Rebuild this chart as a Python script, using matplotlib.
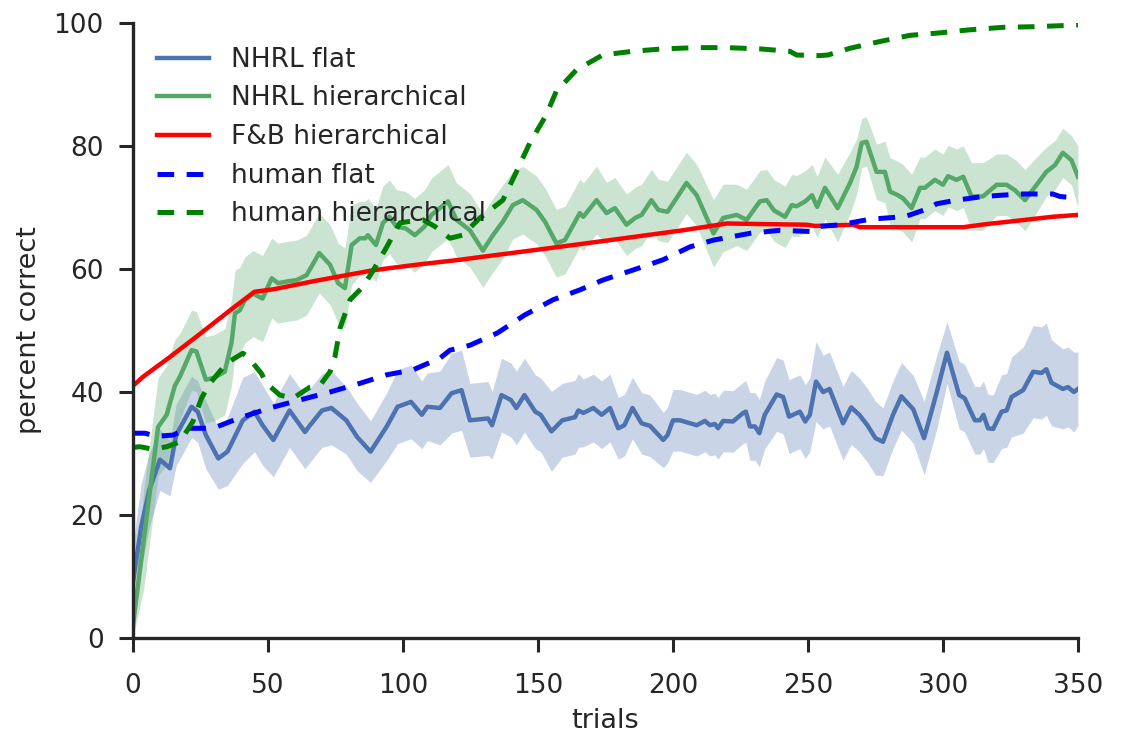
import matplotlib
matplotlib.use("Agg")
import numpy as np
import matplotlib.pyplot as plt

# NHRL flat (mean and band half-width)
flat_x = [
    0, 3, 6, 10, 13.7, 16, 21.7, 24, 27, 31.6,
    35, 40.7, 45, 48, 52, 58, 63.7, 65.6, 70, 73.5,
    79, 83, 88, 94, 98, 103, 107, 109, 113.7, 118,
    121.7, 124.8, 131.5, 133, 136.5, 140, 142, 145, 149, 151,
    155, 159, 163.7, 165, 166.8, 170.5, 173.6, 176.7, 179.7, 182,
    185, 188.4, 191.5, 196.4, 198, 200, 202.6, 208.8, 211.8, 213.7,
    215.5, 216.7, 218.6, 222.2, 226, 227, 228.5, 230.4, 232, 234,
    238.4, 240.8, 243, 247, 249, 250.7, 253, 255.6, 258, 263,
    266, 269, 272, 275, 277.8, 281.5, 284.6, 289, 293, 297.6,
    301.5, 306, 308, 311.8, 313.7, 315, 316.7, 318.6, 321.7, 323.6,
    325.4, 329.7, 333.4, 336.5, 338.3, 340.2, 344.4, 346.3, 348.5, 350]
flat_y = [
    9, 18, 24, 29, 27.6, 33, 37.6, 36.8, 33, 29.2,
    30.3, 35.4, 36.8, 34.6, 32.2, 37, 33.5, 34.6, 37, 37.4,
    35.4, 32.7, 30.3, 34.4, 37.6, 38.4, 36.3, 37.6, 37.4, 39.8,
    40.3, 35.4, 35.7, 34.6, 39.5, 38.7, 37.4, 39.5, 36.8, 36.3,
    33.6, 35.4, 35.9, 37, 36.6, 37.4, 36.3, 37.4, 34.1, 34.6,
    37.4, 34.9, 34.5, 32.2, 33, 35.4, 35.4, 34.6, 35.3, 34.6,
    34.8, 34.1, 35.3, 35.2, 36.6, 36.8, 34.4, 34.4, 33.3, 36.3,
    39.6, 39.2, 36, 36.8, 35.2, 36.3, 41.7, 40, 40.5, 34.9,
    37.5, 36.3, 34.6, 32.5, 31.9, 36.3, 39.3, 37.2, 32.5, 39.8,
    46.4, 39.5, 39, 35.4, 35.4, 36.3, 34.1, 34, 36.8, 37,
    39.2, 40.3, 43.3, 43.1, 43.7, 41.5, 40.5, 40.8, 40, 40.5]
flat_err = [
    6, 7, 6, 5, 4.5, 5, 5, 5, 5.5, 5,
    5.5, 7, 6.5, 6.5, 6, 6, 6, 6, 6, 6,
    5.5, 5.5, 5, 5.5, 6, 6, 5.5, 5.5, 6, 6.5,
    6.5, 6, 6, 5.5, 6, 6, 6, 6, 6, 6,
    6.5, 6, 6, 6, 5.5, 5.5, 5.5, 5.5, 5, 5,
    5, 5, 5, 4.5, 4.5, 5, 5, 5, 5, 5,
    5, 5, 5, 5, 5, 5, 5.5, 5.5, 5.5, 5.5,
    6, 6, 6, 6, 6, 6, 6.5, 6, 6, 6,
    6, 6, 6, 6, 5.5, 5.5, 5.5, 5.5, 6, 6,
    5, 5.5, 5.5, 5.5, 5.5, 5.5, 5.5, 5.5, 6, 6,
    6.5, 7, 7.5, 7.5, 7.5, 7, 6.5, 6.5, 6.5, 6]

# NHRL hierarchical
hier_x = [
    0, 4, 9.3, 12.5, 15.5, 17.4, 21.7, 23.5, 27, 30,
    34, 36.5, 37.8, 39.6, 41.5, 44.5, 48, 51.4, 53.7, 57.4,
    60.6, 64.3, 69, 73, 76, 78.5, 81, 84, 86, 87,
    90, 92.6, 95, 97.6, 101, 104.4, 108, 110.6, 116.7, 119.8,
    124.8, 129.6, 133, 137, 140.7, 144.4, 149.5, 152.6, 156.8, 160,
    165.5, 166.8, 171.7, 175.4, 178.5, 182.8, 186, 188.4, 192, 194.6,
    198, 201.3, 205, 208.8, 215, 218.6, 223.6, 227.3, 232.2, 234.7,
    237.5, 241.5, 244, 245.8, 249, 251.5, 253.4, 256.3, 261, 265.6,
    268, 269.9, 271.7, 275.4, 278.5, 280.4, 283.3, 285.2, 288.4, 291.5,
    293.3, 297, 300, 301.9, 305, 307.5, 310.6, 314.8, 319.9, 323.6,
    326.7, 330.4, 334.7, 338.3, 341.5, 344.4, 347.6, 350]
hier_y = [
    2, 16, 34.3, 36.3, 41, 42.5, 46.8, 46.6, 42, 42.3,
    43.3, 48, 52.8, 53.3, 55, 56, 55.2, 58.5, 57.7, 58,
    58.2, 59, 62.6, 60.7, 57.7, 56.9, 63.9, 65, 65, 65.5,
    63.9, 67.5, 68.5, 66.9, 66.6, 65.5, 66.9, 68.8, 71, 68,
    66.3, 63, 65.3, 67.7, 70.4, 71.2, 69.6, 67.7, 64.2, 64.7,
    69.1, 68.5, 71.2, 69.1, 69.9, 67.2, 68.3, 68.8, 71.2, 69.6,
    69.3, 71.5, 74, 72, 65.8, 68.3, 68.8, 68, 71, 71.2,
    69.5, 68.5, 70.4, 70.2, 71, 72, 70.1, 73.2, 69.9, 74,
    76.6, 80.5, 80.7, 75.8, 75.8, 72.6, 72, 71.5, 69.9, 73.2,
    73.2, 74.5, 73.7, 75.1, 74.5, 75, 71.8, 71.8, 73.7, 73.7,
    72.8, 71.2, 73.7, 75.8, 76.9, 78.9, 77.7, 75]
hier_err = [
    2, 8, 8, 8, 7.5, 7, 6.5, 6.5, 7, 7,
    7, 7, 7, 7, 7, 7, 7, 6.5, 6.5, 6.5,
    6.5, 6.5, 6.5, 6.5, 6.5, 6.5, 6.5, 6, 6, 6,
    6, 6, 6, 6, 6, 6, 6, 6, 6, 6,
    6, 6, 6, 6, 5.5, 5.5, 5.5, 5.5, 5.5, 5.5,
    5.5, 5.5, 5.5, 5, 5, 5, 5, 5, 5, 5,
    5, 5, 5, 5, 5.5, 5.5, 5, 5, 5, 5,
    5, 5, 5, 5, 5, 5, 5, 5, 5.5, 5,
    4.5, 4, 4, 4.5, 5, 5.5, 5.5, 5.5, 5.5, 5,
    5, 5, 5, 5, 5, 5, 5.5, 5.5, 5, 5,
    5, 5, 4.5, 4, 4, 4, 4, 5]

# F&B hierarchical model
fb_x = [0, 3.8, 13.7, 23.5, 36, 45, 52, 66.7, 79, 89, 105, 121, 129.6,
        154.4, 176.7, 203.7, 219.9, 249.5, 252.6, 266.7, 269.3, 307.5,
        316, 328.5, 340.7, 350]
fb_y = [41, 42.5, 45.7, 49, 53.3, 56.3, 56.7, 58, 59, 59.8, 60.7, 61.5, 62,
        63.4, 64.7, 66.3, 67.4, 67.2, 67, 67.2, 66.8, 66.8,
        67.3, 67.9, 68.5, 68.8]

# human data
hf_x = [0, 4.4, 8.8, 15, 20, 29.6, 39.6, 50.7, 61.8, 73, 84, 94, 103.7,
        113.7, 117.4, 124.8, 135, 145, 155.6, 165.5, 174, 185, 196.3, 206.3,
        215, 228.5, 239.6, 250.7, 254, 262, 273, 285.2, 287.8, 295, 297.6,
        305, 315, 328.5, 340.7, 343.3, 350]
hf_y = [33.3, 33.3, 32.8, 33, 34.1, 34.1, 35.8, 37.4, 38.7, 40, 41.4, 42.8,
        43.6, 45.5, 46.8, 47.6, 49.6, 52.5, 55, 56.6, 58.2, 59.8, 61.5, 63.6,
        64.7, 65.8, 66.3, 66.1, 66.9, 67.2, 68.1, 68.5, 68.8, 69.9, 70.6,
        71.2, 71.8, 72.2, 72.2, 71.8, 71.5]

hh_x = [0, 2.6, 7.4, 12.5, 17.4, 22.2, 25.4, 28.5, 34.7, 40.7, 42.6, 47.6,
        49.5, 54.4, 59.3, 65.6, 69.3, 73, 74.8, 76.7, 80.4, 85.2, 89, 94,
        98.9, 101.8, 107.4, 111.9, 117.4, 122, 128.5, 137, 142, 147, 153,
        156.8, 164.3, 174, 185, 196.3, 208.8, 219.9, 232, 243.3, 245.8,
        254.4, 257.4, 265.6, 276.7, 287.8, 298.9, 310, 322.2, 333.3, 345.8, 350]
hh_y = [31, 31.1, 30.7, 31.1, 31.9, 35.2, 39, 41.4, 44.7, 46.3, 45.7, 43,
        41.4, 39.5, 39, 40.8, 41.1, 43.3, 45.7, 50.4, 55, 57.1, 59.8, 63.6,
        67.5, 67.7, 68, 66.9, 65, 65.5, 68.3, 71.2, 75.8, 80.5, 85,
        88.9, 92.4, 94.8, 95.4, 95.8, 96, 96, 95.8, 95.4, 94.8,
        94.7, 94.8, 95.9, 97, 98, 98.4, 98.9, 99.3, 99.4, 99.6, 99.7]


def main():
    plt.rcParams["lines.scale_dashes"] = False
    dark = "#262626"

    fig = plt.figure(figsize=(11.21, 7.38), dpi=100)
    ax = fig.add_axes([0.1186, 0.1355, 0.843, 0.8333])

    fx, fy, fe = np.array(flat_x), np.array(flat_y), np.array(flat_err)
    hx, hy, he = np.array(hier_x), np.array(hier_y), np.array(hier_err)

    ax.fill_between(fx, fy - fe, fy + fe, color="#4C72B0", alpha=0.3, lw=0)
    ax.fill_between(hx, hy - he, hy + he, color="#55A868", alpha=0.3, lw=0)
    ax.plot(fx, fy, color="#4C72B0", lw=3.2, label="NHRL flat")
    ax.plot(hx, hy, color="#55A868", lw=3.2, label="NHRL hierarchical")
    ax.plot(fb_x, fb_y, color="r", lw=3.2, label="F&B hierarchical")
    ax.plot(hf_x, hf_y, color="b", lw=3.6, dashes=(12, 9), label="human flat")
    ax.plot(hh_x, hh_y, color="g", lw=3.6, dashes=(12, 9),
            label="human hierarchical")

    ax.set_xlim(0, 350)
    ax.set_ylim(0, 100)
    ax.set_xticks(range(0, 351, 50))
    ax.set_yticks(range(0, 101, 20))
    ax.set_xlabel("trials", fontsize=19.5, color=dark, labelpad=7)
    ax.set_ylabel("percent correct", fontsize=19.5, color=dark, labelpad=8)
    ax.tick_params(labelsize=19, colors=dark, direction="out",
                   length=10, width=2.2)
    ax.tick_params(axis="x", pad=15)
    ax.tick_params(axis="y", pad=11)

    for side in ("top", "right"):
        ax.spines[side].set_visible(False)
    for side in ("left", "bottom"):
        ax.spines[side].set_linewidth(2.4)
        ax.spines[side].set_color(dark)

    leg = ax.legend(loc="upper left", fontsize=19, frameon=False,
                    handlelength=2.0, labelspacing=0.48,
                    bbox_to_anchor=(0.0, 1.0))
    for t in leg.get_texts():
        t.set_color(dark)

    fig.savefig("out.png", dpi=100)


if __name__ == "__main__":
    main()
